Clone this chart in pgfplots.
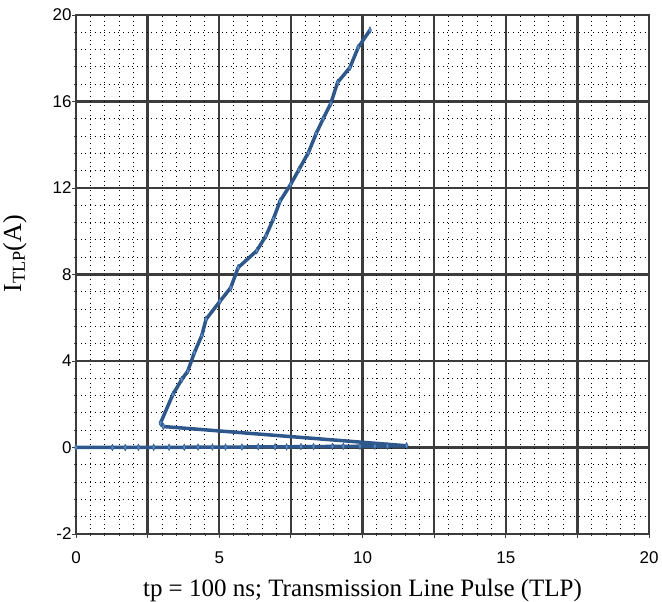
\documentclass[border=0pt]{standalone}
\usepackage{pgfplots}
\pgfplotsset{compat=1.18}
\usepackage{fontspec}
\setmainfont{Liberation Serif}
\newfontfamily\arial{Liberation Sans}
\definecolor{tlpline}{RGB}{46,88,140}
\definecolor{tlpmark}{RGB}{90,140,200}
\definecolor{majgrid}{RGB}{60,60,60}

\begin{document}
\begin{tikzpicture}
  \begin{axis}[
      scale only axis,
      width=573pt, height=519pt,
      xmin=0, xmax=20, ymin=-4, ymax=20,
      xtick={0,2.5,5,7.5,10,12.5,15,17.5,20},
      xticklabels={0,,5,,10,,15,,20},
      ytick={-4,0,4,8,12,16,20},
      yticklabels={-2,0,4,8,12,16,20},
      extra x ticks={0.5,1,1.5,2,3,3.5,4,4.5,5.5,6,6.5,7,8,8.5,9,9.5,
                   10.5,11,11.5,12,13,13.5,14,14.5,15.5,16,16.5,17,18,18.5,19,19.5},
      extra y ticks={-3.2,-2.4,-1.6,-0.8,0.8,1.6,2.4,3.2,4.8,5.6,6.4,7.2,
                   8.8,9.6,10.4,11.2,12.8,13.6,14.4,15.2,16.8,17.6,18.4,19.2},
      extra x tick labels={},
      extra y tick labels={},
      extra x tick style={grid=major, major tick length=2pt,
                          major grid style={black, line width=0.9pt,
                                            dash pattern=on 0.9pt off 3.8pt}},
      extra y tick style={grid=major, major tick length=2pt,
                          major grid style={black, line width=0.9pt,
                                            dash pattern=on 0.9pt off 3.8pt}},
      grid=major,
      major grid style={majgrid, solid, line width=2.4pt},
      axis line style={majgrid, line width=2.4pt},
      tick align=outside,
      xtick pos=left, ytick pos=left,
      major tick length=4pt,
      tick style={majgrid, line width=0.8pt},
      /pgf/number format/assume math mode=true,
      ticklabel style={font=\arial\fontsize{17}{17}\selectfont},
      xticklabel style={yshift=-10pt},
      yticklabel style={xshift=3pt},
      xlabel={tp = 100 ns; Transmission Line Pulse (TLP)},
      xlabel style={font=\fontsize{25}{25}\selectfont, yshift=-3pt},
      ylabel={I\textsubscript{TLP}(A)},
      ylabel style={font=\fontsize{26}{26}\selectfont, yshift=13pt,
                    at={(ticklabel cs:0.54)}},
      clip=false,
    ]
    \addplot[color=tlpline, line width=3.5pt, line join=round,
             mark=diamond*, mark size=3.4pt,
             mark options={fill=tlpmark, draw=tlpline, line width=0.5pt,
                           xscale=0.6, solid}]
      coordinates {
        (0.00,0.00) (1.27,0.00) (1.72,0.00) (2.18,0.01) (2.71,0.01)
        (3.25,0.01) (3.78,0.01) (4.26,0.02) (4.76,0.02) (5.22,0.02)
        (5.79,0.02) (6.36,0.03) (6.95,0.03) (7.35,0.03) (7.85,0.04)
        (8.29,0.04) (8.95,0.05) (9.33,0.05) (9.91,0.06) (10.43,0.06)
        (10.87,0.07) (11.54,0.08)
        (3.05,0.97) (2.95,1.13) (3.38,2.45) (3.69,3.14) (3.90,3.53)
        (4.13,4.38) (4.39,5.18) (4.54,5.93) (5.03,6.77) (5.40,7.39)
        (5.66,8.32) (6.31,9.10) (6.63,9.79) (6.89,10.57) (7.12,11.39)
        (7.49,12.16) (7.78,12.85) (8.11,13.63) (8.38,14.51) (8.63,15.21)
        (8.89,15.90) (9.13,16.88) (9.56,17.57) (9.85,18.50) (10.26,19.30)
      };
  \end{axis}
  \pgfresetboundingbox
  \path (current axis.south west) ++(-76pt,-67pt) coordinate (bbA);
  \path (current axis.north east) ++(13pt,15pt) coordinate (bbB);
  \path (bbA) rectangle (bbB);
\end{tikzpicture}
\end{document}
